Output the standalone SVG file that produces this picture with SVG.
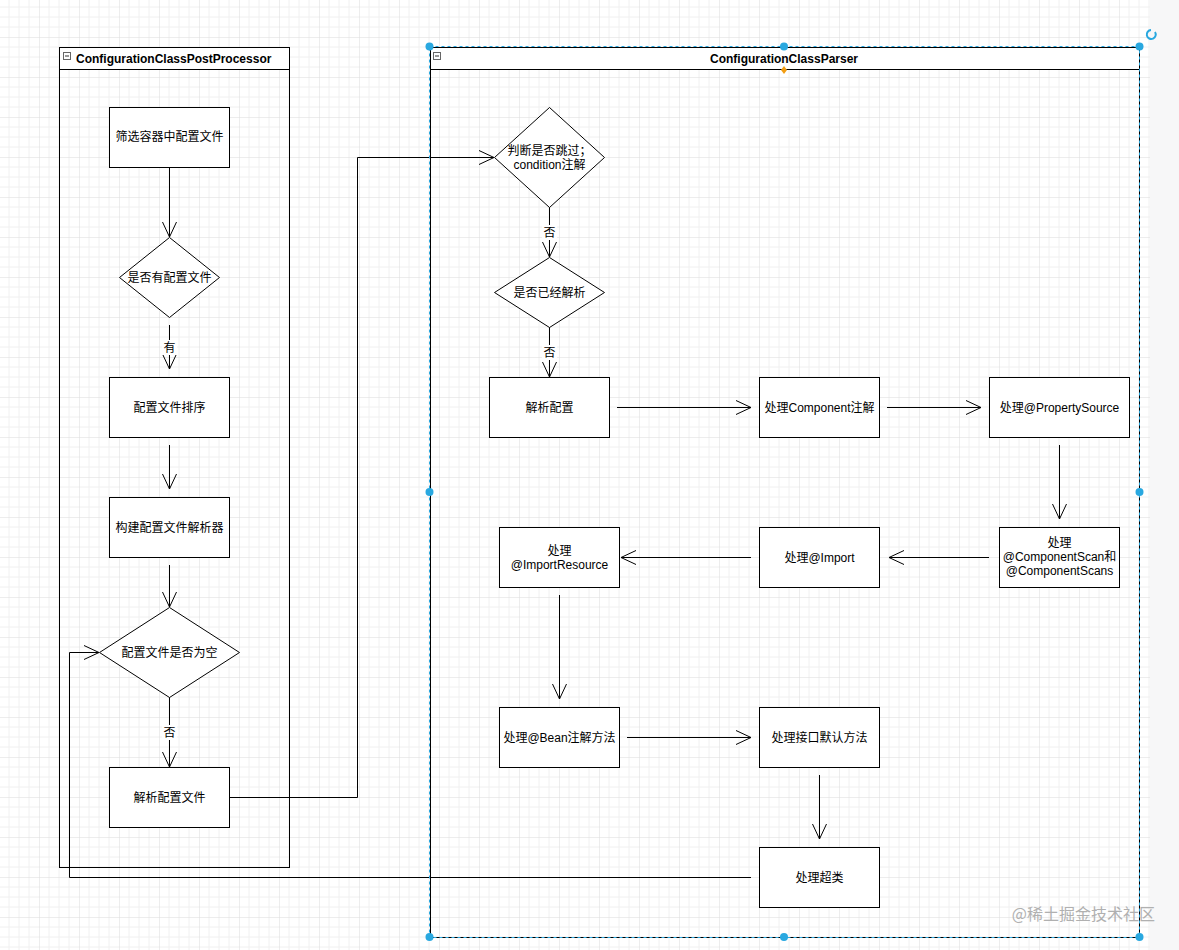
<svg xmlns="http://www.w3.org/2000/svg" width="1179" height="950" viewBox="0 0 1179 950">
<defs>
<pattern id="g" width="40" height="40" patternUnits="userSpaceOnUse" x="-1" y="-3">
<path d="M10 0V40M20 0V40M30 0V40M0 10H40M0 20H40M0 30H40" stroke="#f0f0f0" stroke-width="1" fill="none"/>
<path d="M0 0V40M0 0H40" stroke="#dcdcdc" stroke-width="1" fill="none"/>
</pattern>
<marker id="a" markerWidth="16" markerHeight="16" refX="15" refY="8" orient="auto" markerUnits="userSpaceOnUse">
<path d="M0 1L15 8L0 15" fill="none" stroke="#000" stroke-width="1"/>
</marker>
</defs>
<style>
.n{fill:#fff;stroke:#000;stroke-width:1}
.t{font-family:"Liberation Sans","Noto Sans CJK SC",sans-serif;font-size:12px;text-anchor:middle;fill:#000}
.h{font-family:"Liberation Sans","Noto Sans CJK SC",sans-serif;font-size:12px;font-weight:bold;fill:#000}
.c{fill:none;stroke:#000;stroke-width:1;marker-end:url(#a)}
.hd{fill:#29a8e0}
</style>
<rect width="1179" height="950" fill="#fff"/>
<rect width="1150" height="950" fill="url(#g)"/>
<rect x="1150" y="0" width="29" height="950" fill="#f7f7f8"/>

<g id="container-left">
<rect x="59.5" y="47.5" width="230" height="820" fill="none" stroke="#000"/>
<rect x="59.5" y="47.5" width="230" height="22" fill="#fff" stroke="#000"/>
<rect x="63.5" y="52.5" width="7" height="7" fill="#fff" stroke="#666"/><path d="M65 56H69" stroke="#333"/>
<text class="h" x="76" y="63">ConfigurationClassPostProcessor</text>
</g>
<g id="container-right">
<rect x="430.5" y="47.5" width="709" height="890" fill="none" stroke="#000"/>
<rect x="430.5" y="47.5" width="709" height="22" fill="#fff" stroke="#000"/>
<rect x="433.5" y="52.5" width="7" height="7" fill="#fff" stroke="#666"/><path d="M435 56H439" stroke="#333"/>
<text class="h" x="784" y="63" text-anchor="middle">ConfigurationClassParser</text>
</g>

<g id="connectors">
<path class="c" d="M169.5 167V237"/>
<path class="c" d="M169.5 325V369"/>
<path class="c" d="M169.5 445V489"/>
<path class="c" d="M169.5 565V607"/>
<path class="c" d="M169.5 697V767"/>
<path class="c" d="M229 797.5H357.5V157.5H494"/>
<path class="c" d="M549.5 207V257"/>
<path class="c" d="M549.5 327V377"/>
<path class="c" d="M617 407.5H751"/>
<path class="c" d="M887 407.5H981"/>
<path class="c" d="M1059.5 445V519"/>
<path class="c" d="M989 557.5H889"/>
<path class="c" d="M751 557.5H621"/>
<path class="c" d="M559.5 595V699"/>
<path class="c" d="M627 737.5H751"/>
<path class="c" d="M819.5 775V839"/>
<path class="c" d="M751 877.5H69.5V652.5H99"/>
<rect x="162" y="340" width="15" height="15" fill="#fff"/><text class="t" x="169.5" y="352">有</text>
<rect x="162" y="725" width="15" height="15" fill="#fff"/><text class="t" x="169.5" y="737">否</text>
<rect x="542" y="225" width="15" height="15" fill="#fff"/><text class="t" x="549.5" y="237">否</text>
<rect x="542" y="345" width="15" height="15" fill="#fff"/><text class="t" x="549.5" y="357">否</text>
</g>

<g id="n1"><rect class="n" x="109.5" y="107.5" width="120" height="60"/><text class="t" x="169.5" y="141">筛选容器中配置文件</text></g>
<g id="n2"><path class="n" d="M169.5 237.5L219.5 277.5L169.5 317.5L119.5 277.5Z"/><text class="t" x="169.5" y="282">是否有配置文件</text></g>
<g id="n3"><rect class="n" x="109.5" y="377.5" width="120" height="60"/><text class="t" x="169.5" y="412">配置文件排序</text></g>
<g id="n4"><rect class="n" x="109.5" y="497.5" width="120" height="60"/><text class="t" x="169.5" y="532">构建配置文件解析器</text></g>
<g id="n5"><path class="n" d="M169.5 607.5L239.5 652.5L169.5 697.5L99.5 652.5Z"/><text class="t" x="169.5" y="657">配置文件是否为空</text></g>
<g id="n6"><rect class="n" x="109.5" y="767.5" width="120" height="60"/><text class="t" x="169.5" y="802">解析配置文件</text></g>

<g id="r1"><path class="n" d="M549.5 107.5L604.5 157.5L549.5 207.5L494.5 157.5Z"/><text class="t" x="549.5" y="155">判断是否跳过；</text><text class="t" x="549.5" y="169">condition注解</text></g>
<g id="r2"><path class="n" d="M549.5 257.5L604.5 292.5L549.5 327.5L494.5 292.5Z"/><text class="t" x="549.5" y="297">是否已经解析</text></g>
<g id="r3"><rect class="n" x="489.5" y="377.5" width="120" height="60"/><text class="t" x="549.5" y="412">解析配置</text></g>
<g id="r4"><rect class="n" x="759.5" y="377.5" width="120" height="60"/><text class="t" x="819.5" y="412">处理Component注解</text></g>
<g id="r5"><rect class="n" x="989.5" y="377.5" width="140" height="60"/><text class="t" x="1059.5" y="412">处理@PropertySource</text></g>
<g id="r6"><rect class="n" x="999.5" y="527.5" width="120" height="60"/><text class="t" x="1059.5" y="547">处理</text><text class="t" x="1059.5" y="561">@ComponentScan和</text><text class="t" x="1059.5" y="575">@ComponentScans</text></g>
<g id="r7"><rect class="n" x="759.5" y="527.5" width="120" height="60"/><text class="t" x="819.5" y="562">处理@Import</text></g>
<g id="r8"><rect class="n" x="499.5" y="527.5" width="120" height="60"/><text class="t" x="559.5" y="555">处理</text><text class="t" x="559.5" y="569">@ImportResource</text></g>
<g id="r9"><rect class="n" x="499.5" y="707.5" width="120" height="60"/><text class="t" x="559.5" y="742">处理@Bean注解方法</text></g>
<g id="r10"><rect class="n" x="759.5" y="707.5" width="120" height="60"/><text class="t" x="819.5" y="742">处理接口默认方法</text></g>
<g id="r11"><rect class="n" x="759.5" y="847.5" width="120" height="60"/><text class="t" x="819.5" y="882">处理超类</text></g>

<g id="selection">
<rect x="429.5" y="46.5" width="710" height="891" fill="none" stroke="#29a8e0" stroke-dasharray="3 3"/>
<circle class="hd" cx="429.5" cy="46.5" r="4"/><circle class="hd" cx="784" cy="46.5" r="4"/><circle class="hd" cx="1139.5" cy="46.5" r="4"/>
<circle class="hd" cx="429.5" cy="492" r="4"/><circle class="hd" cx="1139.5" cy="492" r="4"/>
<circle class="hd" cx="429.5" cy="937" r="4"/><circle class="hd" cx="784" cy="937" r="4"/><circle class="hd" cx="1139.5" cy="937" r="4"/>
<path d="M784 66L787 70L784 74L781 70Z" fill="#f29d12"/>
<path d="M1155 32A4.5 4.5 0 1 1 1151 30" fill="none" stroke="#29a8e0" stroke-width="2"/>
</g>
<text x="1155" y="920" font-family="'Noto Sans CJK SC',sans-serif" font-size="16" fill="#b0b0b0" text-anchor="end">@稀土掘金技术社区</text>
</svg>
